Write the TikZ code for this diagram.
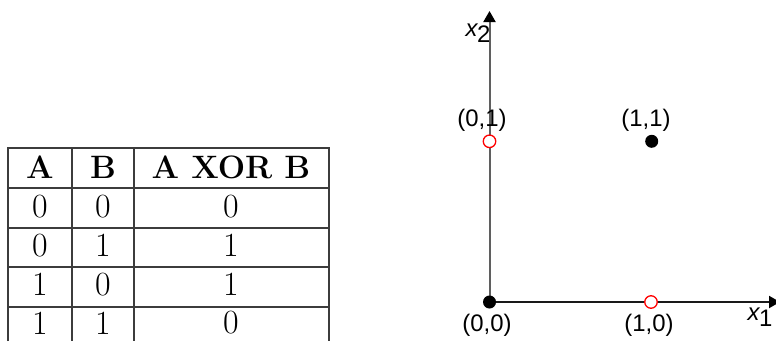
\documentclass[tikz,border=0pt]{standalone}
\usepackage{fontspec}
\newfontfamily\labfont{Liberation Sans}
\usetikzlibrary{arrows.meta}
\definecolor{tline}{RGB}{60,60,60}
\definecolor{vaxis}{RGB}{95,95,95}
\definecolor{haxis}{RGB}{25,25,25}
\begin{document}
\begin{tikzpicture}[x=1bp,y=-1bp,
  cell/.style={inner sep=0pt,font=\fontsize{34}{36}\selectfont},
  hcell/.style={inner sep=0pt,font=\fontsize{32.5}{36}\selectfont\bfseries},
  lab/.style={inner sep=0pt,font=\labfont\fontsize{24}{26}\selectfont},
  hollow/.style={circle,draw=red,fill=white,line width=1.3bp,minimum size=12.5bp,inner sep=0pt},
  solid/.style={circle,fill=black,minimum size=13bp,inner sep=0pt},
  axis/.style={line width=2bp,-{Triangle[length=11bp,width=12bp,color=black]}}]
\useasboundingbox (0,0) rectangle (776,341);
% table
\draw[tline,line width=1.8bp] (8,341) -- (8,148) -- (329,148) -- (329,341);
\foreach \yy in {188,228,267,307} \draw[tline,line width=1.8bp] (8,\yy) -- (329,\yy);
\foreach \xx in {72,134} \draw[tline,line width=1.8bp] (\xx,148) -- (\xx,341);
\node[hcell] (hA) at (40,167) {A};
\node[hcell] (hB) at (103,167) {B};
\node[hcell] (hX) at (231,167) {A XOR B};
\node[cell] (a1) at (40,206.5) {0}; \node[cell] (b1) at (103,206.5) {0}; \node[cell] (c1) at (231,206.5) {0};
\node[cell] (a2) at (40,245.5) {0}; \node[cell] (b2) at (103,245.5) {1}; \node[cell] (c2) at (231,245.5) {1};
\node[cell] (a3) at (40,284.5) {1}; \node[cell] (b3) at (103,284.5) {0}; \node[cell] (c3) at (231,284.5) {1};
\node[cell] (a4) at (40,323) {1}; \node[cell] (b4) at (103,323) {1}; \node[cell] (c4) at (231,323) {0};
% axes
\coordinate (O) at (489.5,302);
\coordinate (ytop) at (489.5,11);
\coordinate (xend) at (780,302);
\draw[axis,draw=vaxis] (O) -- (ytop);
\draw[axis,draw=haxis] (O) -- (xend);
\node[solid] (p00) at (O) {};
\node[hollow] (p10) at (651,302) {};
\node[hollow] (p01) at (489.5,141.3) {};
\node[solid] (p11) at (651.7,141.3) {};
\node[lab] (l01) at (482,120) {(0,1)};
\node[lab] (l11) at (646,120) {(1,1)};
\node[lab] (l00) at (487,325) {(0,0)};
\node[lab] (l10) at (649,325) {(1,0)};
\node[lab] (x2) at (478,33) {\itshape x\kern-0.5bp\raisebox{-6bp}{\upshape 2}};
\node[lab] (x1) at (760,317) {\itshape x\kern-0.5bp\raisebox{-6bp}{\upshape 1}};
\end{tikzpicture}
\end{document}
